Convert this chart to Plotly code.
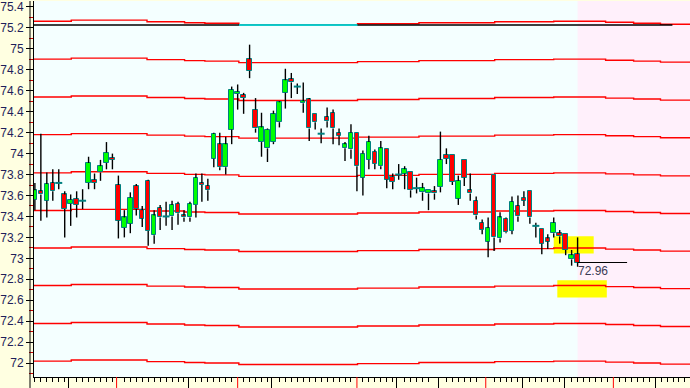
import plotly.graph_objects as go

# ---------------- data ----------------
opens = [73.56, 73.64, 73.55, 73.72, 73.72, 73.61, 73.52, 73.57, 73.55, 73.72,
         73.75, 73.82, 73.91, 73.96, 73.70, 73.29, 73.33, 73.69, 73.46, 73.74,
         73.22, 73.48, 73.40, 73.40, 73.52, 73.41, 73.39, 73.51, 73.72, 73.69,
         73.95, 74.09, 73.87, 74.23, 74.57, 74.56, 74.90, 74.42, 74.11, 74.05,
         74.11, 74.30, 74.58, 74.71, 74.64, 74.48, 74.52, 74.38, 74.19, 74.35,
         74.39, 74.20, 74.05, 74.04, 74.20, 73.77, 73.94, 74.02, 73.88, 74.04,
         73.78, 73.80, 73.81, 73.82, 73.67, 73.63, 73.62, 73.64, 73.68, 73.99,
         73.99, 73.57, 73.94, 73.65, 73.55, 73.34, 73.16, 73.80, 73.19, 73.38,
         73.26, 73.50, 73.58, 73.64, 73.31, 73.28, 73.19, 73.24, 73.24, 73.23,
         72.99, 73.04]
highs = [73.72, 74.19, 73.82, 73.85, 73.85, 73.64, 73.61, 73.64, 73.66, 73.97,
         73.81, 73.94, 74.11, 74.00, 73.79, 73.46, 73.63, 73.71, 73.50, 73.75,
         73.46, 73.51, 73.54, 73.55, 73.54, 73.46, 73.54, 73.81, 73.81, 73.76,
         74.20, 74.20, 74.16, 74.64, 74.66, 74.58, 75.04, 74.53, 74.39, 74.24,
         74.41, 74.50, 74.81, 74.77, 74.67, 74.68, 74.53, 74.38, 74.24, 74.44,
         74.42, 74.24, 74.11, 74.28, 74.20, 74.03, 74.17, 74.04, 74.12, 74.04,
         73.81, 73.90, 73.88, 73.82, 73.77, 73.72, 73.65, 73.69, 74.21, 74.05,
         73.99, 73.79, 73.94, 73.81, 73.59, 73.37, 73.39, 73.80, 73.44, 73.39,
         73.59, 73.60, 73.64, 73.64, 73.34, 73.28, 73.23, 73.39, 73.27, 73.23,
         73.08, 73.20]
lows = [73.46, 73.36, 73.39, 73.55, 73.66, 73.20, 73.31, 73.39, 73.47, 73.66,
        73.66, 73.74, 73.85, 73.85, 73.19, 73.20, 73.24, 73.41, 73.30, 73.12,
        73.14, 73.27, 73.31, 73.27, 73.32, 73.35, 73.35, 73.39, 73.54, 73.55,
        73.87, 73.84, 73.80, 74.09, 74.42, 74.38, 74.72, 74.20, 73.97, 73.92,
        74.09, 74.25, 74.43, 74.53, 74.57, 74.39, 74.12, 74.23, 74.10, 74.25,
        74.09, 74.08, 73.93, 73.95, 73.64, 73.60, 73.85, 73.85, 73.85, 73.67,
        73.66, 73.75, 73.66, 73.58, 73.62, 73.55, 73.46, 73.56, 73.63, 73.90,
        73.70, 73.51, 73.69, 73.55, 73.37, 73.23, 73.01, 73.07, 73.15, 73.24,
        73.23, 73.35, 73.50, 73.33, 73.20, 73.04, 73.09, 73.20, 73.14, 73.03,
        72.93, 72.92]
closes = [73.65, 73.61, 73.71, 73.64, 73.72, 73.47, 73.56, 73.51, 73.55, 73.91,
          73.72, 73.88, 74.01, 73.94, 73.36, 73.39, 73.58, 73.47, 73.38, 73.26,
          73.41, 73.39, 73.40, 73.51, 73.43, 73.39, 73.52, 73.77, 73.70, 73.65,
          74.19, 73.87, 74.09, 74.61, 74.59, 74.53, 74.79, 74.24, 74.25, 74.23,
          74.38, 74.49, 74.70, 74.68, 74.64, 74.50, 74.24, 74.30, 74.19, 74.31,
          74.24, 74.17, 74.09, 74.20, 73.88, 74.00, 74.11, 73.90, 74.05, 73.75,
          73.73, 73.80, 73.85, 73.65, 73.67, 73.67, 73.65, 73.62, 73.94, 73.95,
          73.73, 73.74, 73.77, 73.62, 73.41, 73.27, 73.29, 73.20, 73.39, 73.25,
          73.54, 73.40, 73.55, 73.39, 73.31, 73.14, 73.16, 73.34, 73.21, 73.08,
          73.03, 72.96]

# channel lines (level at the left edge) and their common drift profile
channel_levels = [75.264, 74.902, 74.540, 74.181, 73.816, 73.457, 73.098, 72.740, 72.378, 72.019]
profile_breaks = [-0.15, 6.1, 18.8, 25.1, 28.5, 34.2, 54.1, 64.4, 77.1, 87.0, 95.7, 100.4, 104.9, 109.85]
profile_offsets = [0.0, 0.010, -0.005, -0.014, -0.019, -0.033, -0.024, -0.014, -0.005, 0.0, -0.010, -0.019, -0.029]

top_level = 75.229
top_span = [-0.15, 106.9]
cyan_span = [34.2, 54.1]

last_price = 72.96
last_label = "72.96"
last_line_span = [91.0, 99.3]

future_start = 91.0
yellow_boxes = [(87.0, 93.7, 73.045, 73.21), (87.6, 95.9, 72.626, 72.79)]

x_major_black = [5.7, 25.8, 39.7, 60.7, 67.6, 81.8, 88.8, 104.0]
x_major_red = [13.7, 34.0, 54.0, 75.6, 97.0]

X_RANGE = [-0.15, 109.85]
Y_RANGE = [71.867, 75.457]

# ---------------- figure ----------------
n = len(opens)
xs = list(range(n))

fig = go.Figure()

# wick segments (outside the bodies)
wx, wy = [], []
for i in xs:
    top = max(opens[i], closes[i])
    bot = min(opens[i], closes[i])
    if highs[i] > top:
        wx += [i, i, None]; wy += [top, highs[i], None]
    if lows[i] < bot:
        wx += [i, i, None]; wy += [bot, lows[i], None]
fig.add_trace(go.Scatter(x=wx, y=wy, mode="lines", line=dict(color="black", width=1.4),
                         hoverinfo="skip", showlegend=False))

# bodies
bx, bbase, bh, bcol = [], [], [], []
dx, dy = [], []
for i in xs:
    if opens[i] == closes[i]:
        dx.append(i); dy.append(opens[i])
        continue
    bx.append(i)
    bbase.append(min(opens[i], closes[i]))
    bh.append(abs(closes[i] - opens[i]))
    bcol.append("#00ff00" if closes[i] > opens[i] else "#ff0000")
fig.add_trace(go.Bar(x=bx, y=bh, base=bbase, width=0.75,
                     marker=dict(color=bcol, line=dict(color="#008080", width=1)),
                     showlegend=False, hoverinfo="skip"))
fig.add_trace(go.Scatter(x=dx, y=dy, mode="markers",
                         marker=dict(symbol="line-ew", size=5,
                                     line=dict(color="#008080", width=2)),
                         showlegend=False, hoverinfo="skip"))

shapes = []
# future (pink) area
shapes.append(dict(type="rect", xref="x", yref="paper", x0=future_start, x1=X_RANGE[1],
                   y0=0, y1=1, fillcolor="#fff0fb", line=dict(width=0), layer="below"))
# yellow highlight boxes
for (xa, xb, ya, yb) in yellow_boxes:
    shapes.append(dict(type="rect", xref="x", yref="y", x0=xa, x1=xb, y0=ya, y1=yb,
                       fillcolor="#ffff00", line=dict(width=0), layer="below"))
# channel lines (stepped)
for lvl in channel_levels:
    path = ""
    for k in range(len(profile_offsets)):
        yv = lvl + profile_offsets[k]
        if k == 0:
            path += f"M{profile_breaks[0]},{yv} "
        else:
            path += f"L{profile_breaks[k]},{yv} "
        path += f"L{profile_breaks[k + 1]},{yv} "
    shapes.append(dict(type="path", xref="x", yref="y", path=path,
                       line=dict(color="#ff0000", width=1.4), layer="below"))
# top reference line
shapes.append(dict(type="line", xref="x", yref="y", x0=top_span[0], x1=top_span[1],
                   y0=top_level, y1=top_level, line=dict(color="black", width=1.5), layer="below"))
shapes.append(dict(type="line", xref="x", yref="y", x0=cyan_span[0], x1=cyan_span[1],
                   y0=top_level, y1=top_level, line=dict(color="#00ffff", width=1.5), layer="below"))
# last price line
shapes.append(dict(type="line", xref="x", yref="y", x0=last_line_span[0], x1=last_line_span[1],
                   y0=last_price, y1=last_price, line=dict(color="black", width=1.2), layer="above"))
# second vertical axis line (left of the plot border)
shapes.append(dict(type="line", xref="paper", yref="paper", x0=-4 / 658, x1=-4 / 658,
                   y0=-11 / 377, y1=1, line=dict(color="black", width=1), layer="above"))
# red long x ticks
for xv in x_major_red:
    shapes.append(dict(type="line", xref="x", yref="paper", x0=xv, x1=xv,
                       y0=-11 / 377, y1=0, line=dict(color="#ff0000", width=1), layer="above"))

long_ticks = x_major_black + x_major_red
minor_x = [v for v in range(0, 110) if all(abs(v - t) > 0.6 for t in long_ticks)]

fig.update_layout(
    width=690, height=388, autosize=False,
    margin=dict(l=32, r=0, t=0, b=11, pad=0),
    paper_bgcolor="#ffffe1", plot_bgcolor="#f4ffff",
    shapes=shapes, bargap=0,
    annotations=[dict(x=last_line_span[0], y=last_price, xref="x", yref="y",
                      text=last_label, showarrow=False, xanchor="left", yanchor="top",
                      xshift=-2, yshift=1,
                      font=dict(family="Liberation Sans, Arial", size=12, color="#3a3a55"))],
    xaxis=dict(range=X_RANGE, showgrid=False, zeroline=False, showline=True,
               linecolor="black", linewidth=1, ticks="outside", tickmode="array",
               tickvals=x_major_black, ticklen=11, tickcolor="black", tickwidth=1,
               showticklabels=False, fixedrange=True,
               minor=dict(tickmode="array", tickvals=minor_x, ticklen=4,
                          tickcolor="black", ticks="outside", showgrid=False)),
    yaxis=dict(range=Y_RANGE, showgrid=False, zeroline=False, showline=True,
               linecolor="black", linewidth=1, ticks="outside", tickmode="linear",
               tick0=72, dtick=0.2, ticklen=7, tickcolor="black", tickwidth=1,
               ticklabeloverflow="allow",
               tickfont=dict(family="Liberation Sans, Arial", size=12, color="#1e1e5a"),
               minor=dict(dtick=0.1, tick0=72, ticklen=4, tickcolor="#cc0000",
                          ticks="outside", showgrid=False)),
)

fig.write_html("out.html")
